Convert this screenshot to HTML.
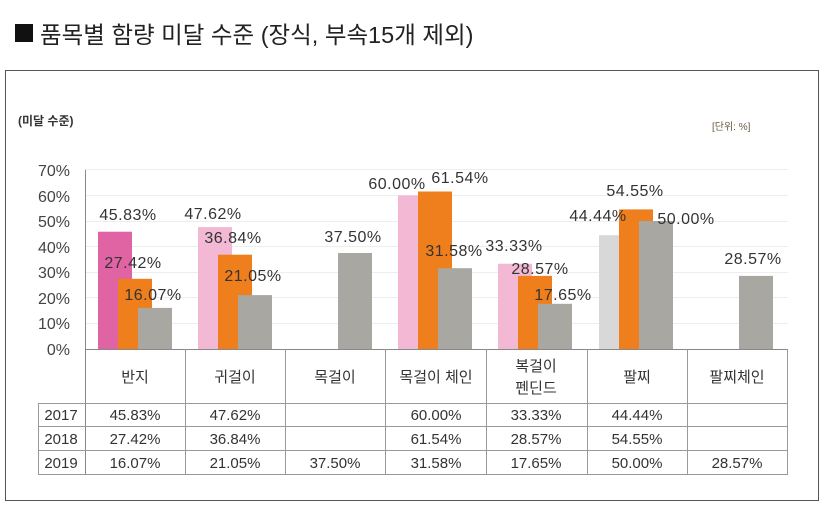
<!DOCTYPE html>
<html><head><meta charset="utf-8"><style>
html,body{margin:0;padding:0;background:#fff;}
svg{display:block;}
text{font-family:"Liberation Sans","Noto Sans CJK KR",sans-serif;}
</style></head><body>
<svg width="835" height="508" viewBox="0 0 835 508" xmlns="http://www.w3.org/2000/svg">
<rect x="15" y="24" width="18" height="18" fill="#111"/>
<text x="40" y="43" font-size="23.5" fill="#222">품목별 함량 미달 수준 (장식, 부속15개 제외)</text>
<rect x="5.5" y="70.5" width="813" height="430" fill="none" stroke="#555" stroke-width="1"/>
<text x="18" y="125" font-size="12" font-weight="bold" fill="#333">(미달 수준)</text>
<text x="712" y="130" font-size="10" fill="#6a5a40">[단위: %]</text>
<g stroke="#eee" stroke-width="1">
<line x1="85" y1="169.5" x2="788" y2="169.5"/><line x1="85" y1="195.5" x2="788" y2="195.5"/>
<line x1="85" y1="221.5" x2="788" y2="221.5"/><line x1="85" y1="246.5" x2="788" y2="246.5"/>
<line x1="85" y1="272.5" x2="788" y2="272.5"/><line x1="85" y1="297.5" x2="788" y2="297.5"/>
<line x1="85" y1="323.5" x2="788" y2="323.5"/>
</g>
<g font-size="16" fill="#444" text-anchor="end">
<text x="70" y="176">70%</text><text x="70" y="202">60%</text><text x="70" y="227">50%</text>
<text x="70" y="253">40%</text><text x="70" y="278">30%</text><text x="70" y="304">20%</text>
<text x="70" y="329">10%</text><text x="70" y="355">0%</text>
</g>
<g>
<rect x="98" y="231.7" width="34" height="117.3" fill="#e063a4"/>
<rect x="118" y="278.8" width="34" height="70.2" fill="#ee7f1c"/>
<rect x="138" y="307.9" width="34" height="41.1" fill="#a8a7a2"/>
<rect x="198" y="227.1" width="34" height="121.9" fill="#f2b8d4"/>
<rect x="218" y="254.7" width="34" height="94.3" fill="#ee7f1c"/>
<rect x="238" y="295.1" width="34" height="53.9" fill="#a8a7a2"/>
<rect x="338" y="253" width="34" height="96" fill="#a8a7a2"/>
<rect x="398" y="195.4" width="34" height="153.6" fill="#f2b8d4"/>
<rect x="418" y="191.5" width="34" height="157.5" fill="#ee7f1c"/>
<rect x="438" y="268.2" width="34" height="80.8" fill="#a8a7a2"/>
<rect x="498" y="263.7" width="34" height="85.3" fill="#f2b8d4"/>
<rect x="518" y="275.9" width="34" height="73.1" fill="#ee7f1c"/>
<rect x="538" y="303.8" width="34" height="45.2" fill="#a8a7a2"/>
<rect x="599" y="235.2" width="34" height="113.8" fill="#d8d8d8"/>
<rect x="619" y="209.4" width="34" height="139.6" fill="#ee7f1c"/>
<rect x="639" y="221" width="34" height="128" fill="#a8a7a2"/>
<rect x="739" y="275.9" width="34" height="73.1" fill="#a8a7a2"/>
</g>
<g font-size="16" fill="#333" text-anchor="middle" letter-spacing="0.5">
<text x="128" y="220">45.83%</text><text x="133" y="268">27.42%</text><text x="153" y="300">16.07%</text>
<text x="213" y="219">47.62%</text><text x="233" y="243">36.84%</text><text x="253" y="281">21.05%</text>
<text x="353" y="242">37.50%</text>
<text x="397" y="189">60.00%</text><text x="460" y="183">61.54%</text><text x="454" y="256">31.58%</text>
<text x="514" y="251">33.33%</text><text x="540" y="274">28.57%</text><text x="563" y="300">17.65%</text>
<text x="598" y="221">44.44%</text><text x="635" y="196">54.55%</text><text x="686" y="224">50.00%</text>
<text x="753" y="264">28.57%</text>
</g>
<g stroke="#999" stroke-width="1" fill="none">
<line x1="85" y1="349.5" x2="788" y2="349.5" stroke="#888"/>
<line x1="85.5" y1="170" x2="85.5" y2="474" stroke="#888"/>
<line x1="38" y1="403.5" x2="788" y2="403.5"/>
<line x1="38" y1="426.5" x2="788" y2="426.5"/>
<line x1="38" y1="450.5" x2="788" y2="450.5"/>
<line x1="38" y1="474.5" x2="788" y2="474.5"/>
<line x1="38.5" y1="403" x2="38.5" y2="474"/>
<line x1="185.5" y1="349" x2="185.5" y2="474"/>
<line x1="285.5" y1="349" x2="285.5" y2="474"/>
<line x1="385.5" y1="349" x2="385.5" y2="474"/>
<line x1="486.5" y1="349" x2="486.5" y2="474"/>
<line x1="587.5" y1="349" x2="587.5" y2="474"/>
<line x1="687.5" y1="349" x2="687.5" y2="474"/>
<line x1="787.5" y1="349" x2="787.5" y2="474"/>
</g>
<g font-size="15" fill="#333" text-anchor="middle">
<text x="135" y="382">반지</text><text x="235" y="382">귀걸이</text><text x="335" y="382">목걸이</text>
<text x="436" y="382">목걸이 체인</text><text x="536" y="371">복걸이</text><text x="536" y="393">펜딘드</text>
<text x="637" y="382">팔찌</text><text x="737" y="382">팔찌체인</text>
<text x="61" y="420">2017</text><text x="61" y="444">2018</text><text x="61" y="468">2019</text>
<text x="135" y="420">45.83%</text><text x="235" y="420">47.62%</text><text x="436" y="420">60.00%</text><text x="536" y="420">33.33%</text><text x="637" y="420">44.44%</text>
<text x="135" y="444">27.42%</text><text x="235" y="444">36.84%</text><text x="436" y="444">61.54%</text><text x="536" y="444">28.57%</text><text x="637" y="444">54.55%</text>
<text x="135" y="468">16.07%</text><text x="235" y="468">21.05%</text><text x="335" y="468">37.50%</text><text x="436" y="468">31.58%</text><text x="536" y="468">17.65%</text><text x="637" y="468">50.00%</text><text x="737" y="468">28.57%</text>
</g>
</svg>
</body></html>
